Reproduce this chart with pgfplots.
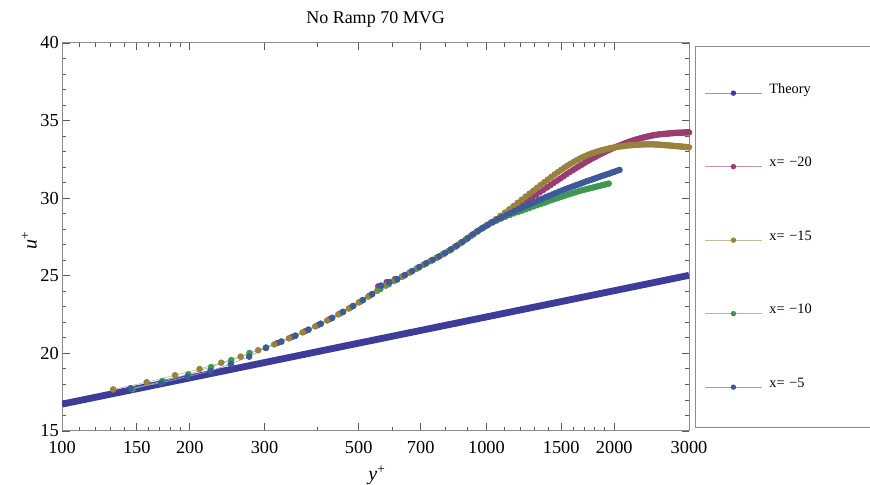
\documentclass[border=0pt]{standalone}
\usepackage{fontspec}
\setmainfont{Liberation Serif}
\usepackage{pgfplots}
\pgfplotsset{compat=1.18}
\definecolor{cth}{RGB}{61,61,153}
\definecolor{cmg}{RGB}{153,61,113}
\definecolor{col}{RGB}{153,130,61}
\definecolor{cgr}{RGB}{61,153,82}
\definecolor{cbl}{RGB}{61,89,153}
\pgfplotsset{
  dat/.style={color=#1!55!white, line width=0.4pt, mark=*, mark size=1.75pt,
    mark options={solid, fill=#1, draw=#1}},
  leg/.style={color=#1!55!white, line width=0.5pt, mark=*, mark size=1.35pt,
    mark options={solid, fill=#1, draw=#1}},
}
\begin{document}
\begin{tikzpicture}
\begin{axis}[
  at={(37.2pt,32.4pt)}, anchor=south west,
  scale only axis, width=376.2pt, height=232.8pt,
  xmode=log, xmin=100, xmax=3000, ymin=15, ymax=40,
  xtick={100,150,200,300,500,700,1000,1500,2000,3000},
  xticklabels={100,150,200,300,500,700,1000,1500,2000,3000},
  minor xtick={110,120,130,140,160,170,180,190,400,600,800,900,1100,1200,1300,1400,1600,1700,1800,1900},
  ytick={15,20,25,30,35,40},
  yticklabels={15,20,25,30,35,40},
  minor ytick={16,17,18,19,21,22,23,24,26,27,28,29,31,32,33,34,36,37,38,39},
  tick align=inside,
  major tick length=4.5pt, minor tick length=2.4pt,
  tick style={black!65, line width=0.5pt},
  axis line style={black!45, line width=0.6pt},
  ticklabel style={font=\fontsize{11}{13}\selectfont},
  xticklabel style={inner sep=0pt, anchor=north, yshift=-6pt},
  yticklabel style={inner sep=0pt, anchor=east, xshift=-1.8pt},
  legend cell align=left,
  legend style={at={(1.00957,0.99227)}, anchor=north west, draw=black!45,
    line width=0.6pt, fill=white, inner xsep=5.4pt, inner ysep=22pt,
    row sep=36.1pt, column sep=4.2pt,
    cells={anchor=base west},
    nodes={inner sep=0pt, text height=6pt, text depth=2pt, text width=80pt,
      font=\fontsize{8.6}{10}\selectfont}},
  legend image code/.code={\draw[#1, mark repeat=2, mark phase=2]
    plot coordinates {(0pt,0pt) (17.1pt,0pt) (34.2pt,0pt)};},
]
\addlegendimage{leg=cth}
\addlegendentry{Theory}
\addlegendimage{leg=cmg}
\addlegendentry{x= −20}
\addlegendimage{leg=col}
\addlegendentry{x= −15}
\addlegendimage{leg=cgr}
\addlegendentry{x= −10}
\addlegendimage{leg=cbl}
\addlegendentry{x= −5}

% theory
\addplot[forget plot, color=cth, line width=4.1pt] coordinates {
(100,16.73) (150,17.72) (200,18.42) (300,19.41) (500,20.66) (700,21.48)
(1000,22.35) (1500,23.34) (2000,24.04) (3000,25.03)
};

% x = -20
\addplot[forget plot, dat=cmg] coordinates {
(322,20.67) (348,21.05) (374,21.43) (400,21.81) (426,22.19) (452,22.57) (478,22.95) (504,23.33)
(530,23.71) (556,24.32) (582,24.59) (608,24.78) (634,24.96) (660,25.22) (686,25.48) (712,25.72)
(738,25.95) (764,26.17) (790,26.39) (816,26.62) (842,26.86) (868,27.10) (894,27.34) (920,27.58)
(946,27.81) (972,28.02) (998,28.21) (1024,28.41) (1050,28.60) (1076,28.76) (1102,28.93) (1128,29.09)
(1154,29.25) (1180,29.41) (1206,29.58) (1232,29.74) (1258,29.90) (1284,30.07) (1310,30.23) (1336,30.39)
(1362,30.54) (1388,30.69) (1414,30.84) (1440,30.99) (1466,31.13) (1492,31.27) (1518,31.41) (1544,31.55)
(1570,31.68) (1596,31.80) (1622,31.92) (1648,32.04) (1674,32.15) (1700,32.26) (1726,32.37) (1752,32.47)
(1778,32.57) (1804,32.66) (1830,32.75) (1856,32.84) (1882,32.92) (1908,33.00) (1934,33.08) (1960,33.15)
(1986,33.22) (2012,33.29) (2038,33.35) (2064,33.41) (2090,33.47) (2116,33.53) (2142,33.58) (2168,33.63)
(2194,33.68) (2220,33.73) (2246,33.77) (2272,33.81) (2298,33.85) (2324,33.89) (2350,33.92) (2376,33.95)
(2402,33.98) (2428,34.01) (2454,34.04) (2480,34.06) (2506,34.08) (2532,34.10) (2558,34.12) (2584,34.13)
(2610,34.14) (2636,34.15) (2662,34.16) (2688,34.17) (2714,34.18) (2740,34.19) (2766,34.20) (2792,34.21)
(2818,34.21) (2844,34.22) (2870,34.22) (2896,34.23) (2922,34.23) (2948,34.24) (2974,34.24) (3000,34.24)
};

% x = -15
\addplot[forget plot, dat=col] coordinates {
(132.0,17.68) (158.3,18.14) (184.6,18.59) (210.9,18.99) (237.2,19.40) (263.5,19.79) (289.8,20.20)
(316.1,20.58) (342.4,20.97) (368.7,21.35) (395.0,21.74) (421.3,22.12) (447.6,22.51) (473.9,22.89)
(500.2,23.28) (526.5,23.66) (552.8,24.03) (579.1,24.36) (605.4,24.66) (631.7,24.94) (658.0,25.20)
(684.3,25.46) (710.6,25.71) (736.9,25.94) (763.2,26.16) (789.5,26.39) (815.8,26.61) (842.1,26.86)
(868.4,27.10) (894.7,27.34) (921.0,27.59) (947.3,27.84) (973.6,28.06) (999.9,28.25) (1026.2,28.45)
(1052.5,28.65) (1078.8,28.86) (1105.1,29.07) (1131.4,29.28) (1157.7,29.49) (1184.0,29.70) (1210.3,29.90)
(1236.6,30.10) (1262.9,30.29) (1289.2,30.48) (1315.5,30.67) (1341.8,30.85) (1368.1,31.03) (1394.4,31.20)
(1420.7,31.37) (1447.0,31.53) (1473.3,31.68) (1499.6,31.83) (1525.9,31.97) (1552.2,32.10) (1578.5,32.22)
(1604.8,32.34) (1631.1,32.45) (1657.4,32.55) (1683.7,32.64) (1710.0,32.72) (1736.3,32.80) (1762.6,32.87)
(1788.9,32.93) (1815.2,32.99) (1841.5,33.04) (1867.8,33.09) (1894.1,33.13) (1920.4,33.17) (1946.7,33.21)
(1973.0,33.24) (1999.3,33.27) (2025.6,33.30) (2051.9,33.32) (2078.2,33.34) (2104.5,33.36) (2130.8,33.38)
(2157.1,33.40) (2183.4,33.41) (2209.7,33.42) (2236.0,33.43) (2262.3,33.44) (2288.6,33.45) (2314.9,33.46)
(2341.2,33.46) (2367.5,33.47) (2393.8,33.47) (2420.1,33.47) (2446.4,33.47) (2472.7,33.47) (2499.0,33.46)
(2525.3,33.46) (2551.6,33.45) (2577.9,33.44) (2604.2,33.43) (2630.5,33.42) (2656.8,33.41) (2683.1,33.40)
(2709.4,33.39) (2735.7,33.38) (2762.0,33.37) (2788.3,33.36) (2814.6,33.35) (2840.9,33.34) (2867.2,33.33)
(2893.5,33.32) (2919.8,33.31) (2946.1,33.30) (2972.4,33.29) (2998.7,33.28)
};

% x = -10
\addplot[forget plot, dat=cgr] coordinates {
(146.5,17.70) (172.5,18.22) (198.5,18.65) (224.5,19.12) (250.5,19.57) (276.5,20.03) (302.5,20.38)
(328.5,20.76) (354.5,21.14) (380.5,21.52) (406.5,21.90) (432.5,22.28) (458.5,22.66) (484.5,23.04)
(510.5,23.42) (536.5,23.80) (562.5,24.15) (588.5,24.46) (614.5,24.75) (640.5,25.02) (666.5,25.29)
(692.5,25.54) (718.5,25.78) (744.5,26.01) (770.5,26.23) (796.5,26.45) (822.5,26.68) (848.5,26.92)
(874.5,27.16) (900.5,27.40) (926.5,27.64) (952.5,27.87) (978.5,28.07) (1004.5,28.26) (1030.5,28.42)
(1056.5,28.56) (1082.5,28.69) (1108.5,28.81) (1134.5,28.92) (1160.5,29.02) (1186.5,29.11) (1212.5,29.20)
(1238.5,29.29) (1264.5,29.38) (1290.5,29.47) (1316.5,29.55) (1342.5,29.63) (1368.5,29.71) (1394.5,29.79)
(1420.5,29.87) (1446.5,29.94) (1472.5,30.01) (1498.5,30.08) (1524.5,30.15) (1550.5,30.22) (1576.5,30.28)
(1602.5,30.34) (1628.5,30.40) (1654.5,30.46) (1680.5,30.52) (1706.5,30.56) (1732.5,30.60) (1758.5,30.65)
(1784.5,30.69) (1810.5,30.73) (1836.5,30.78) (1862.5,30.82) (1888.5,30.86) (1914.5,30.90) (1940.5,30.94)
};

% x = -5
\addplot[forget plot, dat=cbl] coordinates {
(145.0,17.75) (171.2,18.10) (197.4,18.50) (223.6,18.87) (249.8,19.32) (276.0,19.79) (302.2,20.35)
(328.4,20.76) (354.6,21.14) (380.8,21.53) (407.0,21.91) (433.2,22.29) (459.4,22.68) (485.6,23.06)
(511.8,23.44) (538.0,23.82) (564.2,24.37) (590.4,24.59) (616.6,24.78) (642.8,25.05) (669.0,25.31)
(695.2,25.57) (721.4,25.81) (747.6,26.03) (773.8,26.25) (800.0,26.48) (826.2,26.71) (852.4,26.95)
(878.6,27.19) (904.8,27.44) (931.0,27.68) (957.2,27.91) (983.4,28.11) (1009.6,28.30) (1035.8,28.47)
(1062.0,28.63) (1088.2,28.78) (1114.4,28.92) (1140.6,29.05) (1166.8,29.18) (1193.0,29.30) (1219.2,29.42)
(1245.4,29.53) (1271.6,29.64) (1297.8,29.75) (1324.0,29.86) (1350.2,29.96) (1376.4,30.06) (1402.6,30.15)
(1428.8,30.24) (1455.0,30.33) (1481.2,30.42) (1507.4,30.50) (1533.6,30.58) (1559.8,30.66) (1586.0,30.73)
(1612.2,30.80) (1638.4,30.87) (1664.6,30.94) (1690.8,31.01) (1717.0,31.08) (1743.2,31.14) (1769.4,31.20)
(1795.6,31.26) (1821.8,31.32) (1848.0,31.38) (1874.2,31.44) (1900.4,31.49) (1926.6,31.55) (1952.8,31.60)
(1979.0,31.66) (2005.2,31.71) (2031.4,31.77) (2057.6,31.82)
};
\end{axis}
\node[anchor=base, font=\fontsize{10.8}{13}\selectfont] at (225.3pt,276.9pt) {No Ramp 70 MVG};
\node[anchor=base, font=\fontsize{12}{14}\selectfont] at (226.2pt,2.4pt) {\textit{y}\textsuperscript{+}};
\node[anchor=base, rotate=90, font=\fontsize{12}{14}\selectfont] at (22pt,147pt) {\textit{u}\textsuperscript{+}};
\pgfresetboundingbox
\path[use as bounding box] (0,0) rectangle (522pt,291pt);
\end{tikzpicture}
\end{document}
